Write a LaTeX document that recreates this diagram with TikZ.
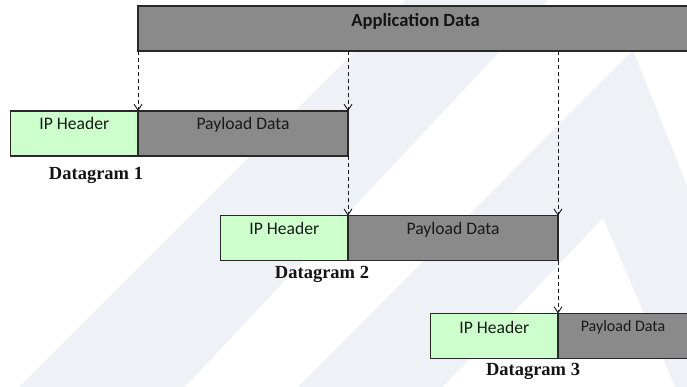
\documentclass[tikz,border=0pt]{standalone}
\usepackage{fontspec}
\setmainfont{Carlito}
\newfontfamily\capfont{Liberation Serif}
\usetikzlibrary{arrows.meta,calc}
\definecolor{payloadgray}{RGB}{138,138,138}
\definecolor{headergreen}{RGB}{204,255,204}
\definecolor{edgegray}{RGB}{40,40,40}
\definecolor{markshade}{RGB}{238,242,247}
\begin{document}
\begin{tikzpicture}[x=1pt,y=-1pt,
  seg/.style={draw=edgegray, line width=1.2pt, minimum height=45pt,
              inner sep=0pt, outer sep=0pt, anchor=north west},
  hdr/.style={seg, fill=headergreen, minimum width=127.5pt},
  pay/.style={seg, fill=payloadgray, minimum width=210pt},
  lbl/.style={anchor=base, text=black!90, font=\fontsize{17.6}{20}\selectfont},
  lblsmall/.style={lbl, font=\fontsize{16}{19}\selectfont},
  toplbl/.style={anchor=base, text=black!92, font=\bfseries\fontsize{18.6}{21}\selectfont},
  dgcaption/.style={anchor=base, text=black!92, font=\capfont\bfseries\fontsize{18.5}{22}\selectfont},
  split/.style={draw=black!90, line width=0.9pt, dash pattern=on 4pt off 3pt,
                -{Straight Barb[length=6pt,width=8pt,line width=0.9pt]}}
]
\useasboundingbox (0,0) rectangle (687,387);
\clip (0,0) rectangle (687,387);
\fill[white] (0,0) rectangle (687,387);

% faint background mark: a slanted bar and a large "A" with its counter
\fill[markshade] (406,0) -- (548,0) -- (185,387) -- (19,387) -- cycle;
\fill[markshade] (633,50) -- (298,387) -- (767,387) -- cycle;
\fill[white] (603,218) -- (443,387) -- (675,387) -- cycle;

% application data block
\node[seg, fill=payloadgray, minimum width=555pt] (app) at (138,6) {};
\node[toplbl] (apptext) at ($(app.north)+(0,20.5)$) {Application Data};

% datagram 1
\node[hdr] (h1) at (10.5,111) {};
\node[pay] (p1) at (h1.north east) {};
\node[lbl] (h1text) at ($(h1.north)+(0,19)$) {IP Header};
\node[lbl] (p1text) at ($(p1.north)+(0,19)$) {Payload Data};
\node[dgcaption] (d1) at (96,179.3) {Datagram 1};

% datagram 2
\node[hdr] (h2) at (220.5,215.7) {};
\node[pay] (p2) at (h2.north east) {};
\node[lbl] (h2text) at ($(h2.north)+(0,19)$) {IP Header};
\node[lbl] (p2text) at ($(p2.north)+(0,19)$) {Payload Data};
\node[dgcaption] (d2) at (322,278) {Datagram 2};

% datagram 3
\node[hdr] (h3) at (430.5,313.5) {};
\node[pay, minimum width=130pt] (p3) at (h3.north east) {};
\node[lbl] (h3text) at ($(h3.north)+(0,20)$) {IP Header};
\node[lblsmall] (p3text) at ($(p3.north)+(0,17.7)$) {Payload Data};
\node[dgcaption] (d3) at (533,375) {Datagram 3};

% fragmentation boundaries
\draw[split] (app.south -| h1.east) -- (h1.north east);
\draw[split] (app.south -| p1.east) -- (p1.north east);
\draw[split] (p1.south east) -- (h2.north east);
\draw[split] (app.south -| p2.east) -- (p2.north east);
\draw[split] (p2.south east) -- (h3.north east);
\end{tikzpicture}
\end{document}
